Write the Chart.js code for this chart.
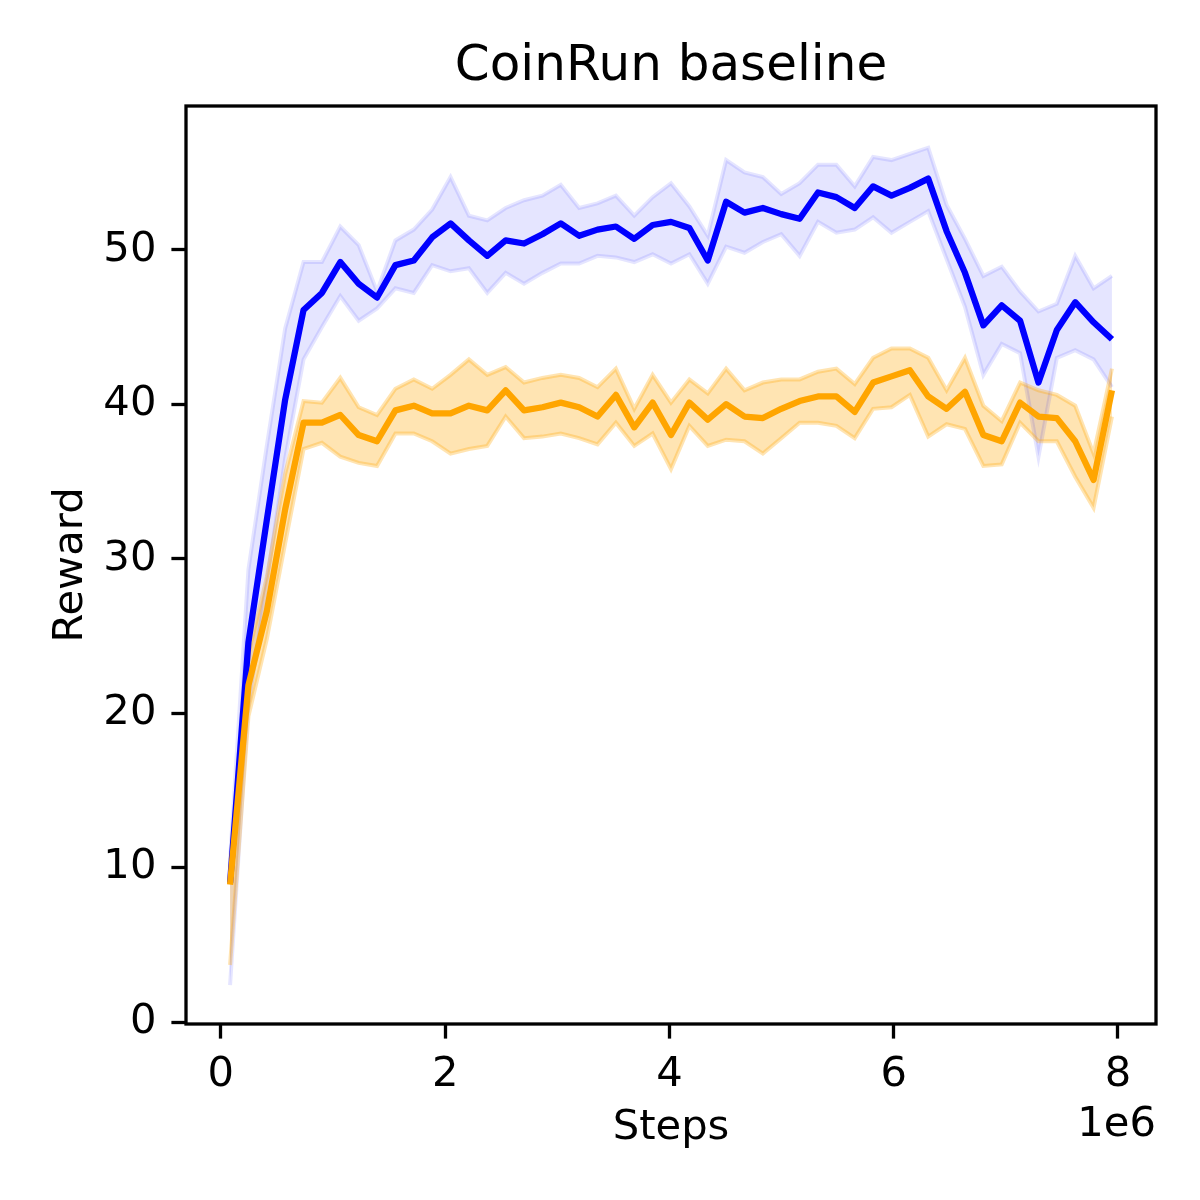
<!DOCTYPE html>
<html>
<head>
<meta charset="utf-8">
<title>CoinRun baseline</title>
<script src="https://cdn.jsdelivr.net/npm/chart.js@4.4.1/dist/chart.umd.min.js"></script>
<style>
  html, body { margin: 0; padding: 0; background: #fff; }
  canvas { display: block; }
</style>
</head>
<body>
<canvas id="chart" width="1200" height="1200"></canvas>
<script>
// environment steps at each evaluation point
const STEPS = [
  81920, 245760, 409600, 573440, 737280, 901120, 1064960, 1228800, 1392640, 1556480,
  1720320, 1884160, 2048000, 2211840, 2375680, 2539520, 2703360, 2867200, 3031040, 3194880,
  3358720, 3522560, 3686400, 3850240, 4014080, 4177920, 4341760, 4505600, 4669440, 4833280,
  4997120, 5160960, 5324800, 5488640, 5652480, 5816320, 5980160, 6144000, 6307840, 6471680,
  6635520, 6799360, 6963200, 7127040, 7290880, 7454720, 7618560, 7782400, 7946240
];

// blue run: mean and band
const BLUE_MEAN = [
  9.0, 24.6, 32.5, 40.3, 46.1, 47.2, 49.2, 47.8, 46.9, 49.0,
  49.3, 50.8, 51.7, 50.6, 49.6, 50.6, 50.4, 51.0, 51.7, 50.9,
  51.3, 51.5, 50.7, 51.6, 51.8, 51.4, 49.3, 53.1, 52.4, 52.7,
  52.3, 52.0, 53.7, 53.4, 52.7, 54.1, 53.5, 54.0, 54.6, 51.2,
  48.5, 45.1, 46.4, 45.4, 41.4, 44.8, 46.6, 45.3, 44.2
];
const BLUE_UPPER = [
  10.5, 29.3, 37.3, 44.9, 49.2, 49.2, 51.5, 50.3, 47.3, 50.6,
  51.3, 52.6, 54.7, 52.2, 51.9, 52.7, 53.2, 53.5, 54.2, 52.7,
  53.0, 53.5, 52.2, 53.4, 54.3, 52.8, 50.9, 55.8, 55.0, 54.7,
  53.6, 54.3, 55.5, 55.5, 54.1, 56.0, 55.8, 56.2, 56.6, 52.9,
  50.7, 48.3, 48.9, 47.3, 46.0, 46.5, 49.6, 47.5, 48.3
];
const BLUE_LOWER = [
  2.4, 20.5, 28.5, 36.5, 42.9, 45.0, 47.0, 45.4, 46.2, 47.5,
  47.2, 49.0, 48.6, 48.8, 47.2, 48.5, 47.8, 48.5, 49.1, 49.1,
  49.6, 49.5, 49.2, 49.7, 49.1, 49.7, 47.8, 50.2, 49.8, 50.5,
  51.0, 49.6, 51.8, 51.1, 51.3, 52.1, 51.1, 51.8, 52.5, 49.4,
  46.3, 41.9, 43.9, 43.3, 36.6, 43.0, 43.5, 42.9, 41.1
];

// orange run: mean and band
const ORANGE_MEAN = [
  8.9, 21.8, 26.6, 33.2, 38.8, 38.8, 39.3, 38.0, 37.6, 39.6,
  39.9, 39.4, 39.4, 39.9, 39.6, 40.9, 39.6, 39.8, 40.1, 39.8,
  39.2, 40.6, 38.5, 40.1, 38.0, 40.1, 39.0, 40.0, 39.2, 39.1,
  39.7, 40.2, 40.5, 40.5, 39.5, 41.4, 41.8, 42.2, 40.5, 39.7,
  40.8, 38.0, 37.6, 40.1, 39.2, 39.1, 37.6, 35.1, 40.9
];
const ORANGE_UPPER = [
  10.0, 23.8, 28.8, 35.5, 40.2, 40.1, 41.7, 39.8, 39.3, 41.0,
  41.6, 41.0, 41.9, 42.9, 41.9, 42.4, 41.4, 41.7, 41.9, 41.7,
  41.1, 42.3, 39.7, 41.9, 40.1, 41.6, 40.7, 42.3, 40.9, 41.4,
  41.6, 41.6, 42.1, 42.3, 41.3, 43.0, 43.6, 43.6, 43.0, 40.9,
  43.0, 39.9, 38.9, 41.4, 40.9, 40.6, 39.9, 36.8, 42.3
];
const ORANGE_LOWER = [
  3.7, 19.8, 24.8, 31.0, 37.1, 37.5, 36.6, 36.2, 36.0, 38.1,
  38.1, 37.6, 36.8, 37.1, 37.3, 39.2, 37.8, 37.9, 38.1, 37.8,
  37.4, 38.8, 37.3, 38.1, 35.8, 38.6, 37.3, 37.7, 37.6, 36.8,
  37.8, 38.8, 38.8, 38.6, 37.8, 39.7, 39.8, 40.6, 37.9, 38.7,
  38.4, 36.0, 36.1, 38.8, 37.6, 37.6, 35.3, 33.3, 39.2
];

const X_TICKS = [0, 2000000, 4000000, 6000000, 8000000];
const Y_TICKS = [0, 10, 20, 30, 40, 50];
const TITLE = 'CoinRun baseline';

const FONT = 'DejaVu Sans';
const TICK_PX = 41.7;

function pts(ys) {
  return ys.map(function (y, i) { return { x: STEPS[i], y: y }; });
}

function bandEdge(ys, color, order, fill) {
  return {
    data: pts(ys),
    borderColor: color,
    backgroundColor: color,
    borderWidth: 4,
    pointRadius: 0,
    tension: 0,
    fill: fill,
    order: order,
  };
}

function meanLine(ys, color, order) {
  return {
    data: pts(ys),
    borderColor: color,
    borderWidth: 6.25,
    borderJoinStyle: 'round',
    pointRadius: 0,
    tension: 0,
    fill: false,
    order: order,
  };
}

const BLUE_BAND = 'rgba(0, 0, 255, 0.1)';
const ORANGE_BAND = 'rgba(255, 165, 0, 0.3)';

// box round the axes, title centred on the plot, and the "1e6" offset label
const framePlugin = {
  id: 'frame',
  afterDraw: function (chart) {
    var ctx = chart.ctx, a = chart.chartArea;
    ctx.save();
    ctx.strokeStyle = '#000';
    ctx.lineWidth = 3.3;
    ctx.strokeRect(a.left, a.top, a.right - a.left, a.bottom - a.top);
    ctx.fillStyle = '#000';
    ctx.textBaseline = 'middle';
    ctx.font = '50px "' + FONT + '"';
    ctx.textAlign = 'center';
    ctx.fillText(TITLE, (a.left + a.right) / 2, a.top - 39);
    ctx.font = TICK_PX + 'px "' + FONT + '"';
    ctx.textAlign = 'right';
    ctx.fillText('1e6', a.right, a.bottom + 101);
    ctx.restore();
  }
};

function axisGrid() {
  return {
    display: true,
    drawOnChartArea: false,
    drawTicks: true,
    tickLength: 14.6,
    tickWidth: 3.3,
    tickColor: '#000',
  };
}

new Chart(document.getElementById('chart'), {
  type: 'line',
  data: {
    datasets: [
      bandEdge(BLUE_UPPER, BLUE_BAND, 3, '+1'),
      bandEdge(BLUE_LOWER, BLUE_BAND, 3, false),
      bandEdge(ORANGE_UPPER, ORANGE_BAND, 2, '+1'),
      bandEdge(ORANGE_LOWER, ORANGE_BAND, 2, false),
      meanLine(BLUE_MEAN, '#0000ff', 1),
      meanLine(ORANGE_MEAN, '#ffa500', 0),
    ]
  },
  options: {
    responsive: false,
    devicePixelRatio: 1,
    animation: false,
    layout: { padding: { left: 0, right: 44, top: 106, bottom: 0 } },
    plugins: {
      legend: { display: false },
      tooltip: { enabled: false },
      filler: { drawTime: 'beforeDatasetsDraw' },
      title: { display: false },
    },
    scales: {
      x: {
        type: 'linear',
        min: -311000,
        max: 8339000,
        border: { display: false },
        grid: axisGrid(),
        afterBuildTicks: function (scale) {
          scale.ticks = X_TICKS.map(function (v) { return { value: v }; });
        },
        afterFit: function (scale) { scale.height = 176; },
        ticks: {
          color: '#000',
          font: { family: FONT, size: TICK_PX },
          padding: 12,
          maxRotation: 0,
          callback: function (v) { return String(v / 1000000); },
        },
        title: {
          display: true,
          text: 'Steps',
          color: '#000',
          font: { family: FONT, size: TICK_PX },
          padding: { top: 0, bottom: 47 },
        },
      },
      y: {
        type: 'linear',
        min: -0.12,
        max: 59.3,
        border: { display: false },
        grid: axisGrid(),
        afterBuildTicks: function (scale) {
          scale.ticks = Y_TICKS.map(function (v) { return { value: v }; });
        },
        afterFit: function (scale) { scale.width = 186; },
        ticks: {
          color: '#000',
          font: { family: FONT, size: TICK_PX },
          padding: 15,
        },
        title: {
          display: true,
          text: 'Reward',
          color: '#000',
          font: { family: FONT, size: TICK_PX },
          padding: { top: 46, bottom: 0 },
        },
      },
    },
  },
  plugins: [framePlugin],
});
</script>
</body>
</html>
